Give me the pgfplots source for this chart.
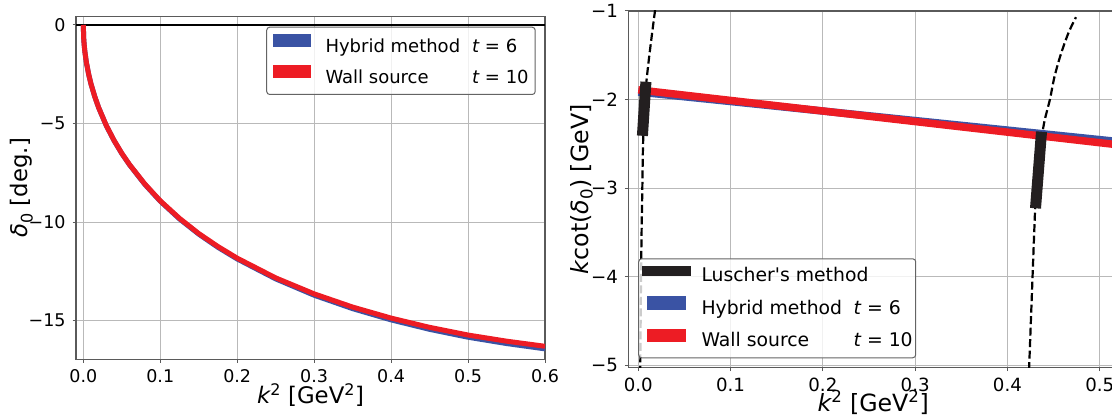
\documentclass[border=0pt]{standalone}
\usepackage{fontspec}
\setmainfont{DejaVu Sans}
\usepackage{pgfplots}
\pgfplotsset{compat=1.18}
\definecolor{hyb}{RGB}{58,83,164}
\definecolor{wall}{RGB}{237,28,36}
\definecolor{lus}{RGB}{35,31,32}
\definecolor{spine}{RGB}{90,90,90}
\definecolor{gridc}{RGB}{185,185,185}
\definecolor{legframe}{RGB}{100,100,100}
\pgfplotsset{
  mystyle/.style={
    scale only axis, anchor=south west,
    axis line style={spine, line width=1.3pt},
    grid=major, major grid style={gridc, line width=1pt},
    tick align=outside, tick pos=left,
    major tick length=3.5pt, every tick/.style={spine, line width=1pt},
    legend cell align=left,
    yticklabel style={anchor=east, inner sep=0pt, xshift=-6.7pt},
    xticklabel style={anchor=north, inner sep=0pt, yshift=-6.4pt},
  }
}
\begin{document}
\begin{tikzpicture}[x=1pt,y=1pt]
\useasboundingbox (0,0) rectangle (1112,418);
% ---------------- left panel ----------------
\begin{axis}[mystyle, at={(76pt,58.7pt)}, width=469pt, height=342.6pt,
  xmin=-0.0095, xmax=0.6, ymin=-16.96, ymax=0.42,
  xtick={0,0.1,0.2,0.3,0.4,0.5,0.6}, xticklabels={0.0,0.1,0.2,0.3,0.4,0.5,0.6},
  ytick={-15,-10,-5,0}, yticklabels={−15,−10,−5,0},
  ticklabel style={font=\fontsize{17.5}{21}\selectfont},
  xlabel={{\itshape k}\textsuperscript{2} [GeV\textsuperscript{2}]},
  ylabel={{\itshape δ}\textsubscript{0} [deg.]},
  xlabel style={at={([yshift=-44pt]axis description cs:0.5,0)}, anchor=base, inner sep=0pt, font=\fontsize{22.8}{27}\selectfont},
  ylabel style={at={([xshift=-48pt]axis description cs:0,0.5)}, anchor=base, inner sep=0pt, font=\fontsize{22.8}{27}\selectfont},
  legend image code/.code={\fill[#1, sharp corners, fill opacity=1, draw=none] (0pt,0pt) rectangle (38pt,13.3pt);},
  legend style={at={([xshift=-9.3pt,yshift=-10pt]axis description cs:1,1)}, anchor=north east,
    draw=legframe, line width=1pt, rounded corners=3pt, fill=white, fill opacity=0.8, text opacity=1,
    inner xsep=6.5pt, inner ysep=7pt, row sep=8.5pt, column sep=14.3pt,
    font=\fontsize{18}{21}\selectfont, nodes={inner sep=0pt, text height=14pt, text depth=4.2pt}},
]
\addplot[black, line width=2pt, forget plot] coordinates {(-0.0095,0) (0.6,0)};
\addplot[hyb, line width=5pt, line join=round] coordinates {
(0,0) (0.0005,-0.67) (0.001,-0.95) (0.002,-1.35) (0.004,-1.90) (0.007,-2.51) (0.01,-3.00) (0.015,-3.65) (0.02,-4.20) (0.03,-5.12) (0.04,-5.87) (0.05,-6.52) (0.06,-7.09) (0.08,-8.09) (0.1,-8.94) (0.125,-9.84) (0.15,-10.61) (0.175,-11.28) (0.2,-11.87) (0.25,-12.88) (0.3,-13.71) (0.35,-14.39) (0.4,-14.96) (0.45,-15.44) (0.5,-15.84) (0.55,-16.16) (0.6,-16.43)};
\addlegendentry{\makebox[146.7pt][l]{Hybrid method}{\itshape t} = 6}
\addplot[wall, line width=5pt, line join=round] coordinates {
(0,0) (0.0005,-0.67) (0.001,-0.95) (0.002,-1.35) (0.004,-1.90) (0.007,-2.51) (0.01,-2.99) (0.015,-3.65) (0.02,-4.20) (0.03,-5.11) (0.04,-5.86) (0.05,-6.51) (0.06,-7.08) (0.08,-8.07) (0.1,-8.92) (0.125,-9.81) (0.15,-10.58) (0.175,-11.24) (0.2,-11.83) (0.25,-12.83) (0.3,-13.64) (0.35,-14.31) (0.4,-14.87) (0.45,-15.34) (0.5,-15.73) (0.55,-16.04) (0.6,-16.30)};
\addlegendentry{\makebox[146.7pt][l]{Wall source}{\itshape t} = 10}
\end{axis}
% ---------------- right panel ----------------
\begin{axis}[mystyle, at={(628.3pt,50.3pt)}, width=489.9pt, height=356.7pt,
  xmin=-0.0108, xmax=0.52, ymin=-5.03, ymax=-1,
  xtick={0,0.1,0.2,0.3,0.4,0.5}, xticklabels={0.0,0.1,0.2,0.3,0.4,0.5},
  ytick={-5,-4,-3,-2,-1}, yticklabels={−5,−4,−3,−2,−1},
  ticklabel style={font=\fontsize{18.2}{22}\selectfont},
  xlabel={{\itshape k}\textsuperscript{2} [GeV\textsuperscript{2}]},
  ylabel={{\itshape k}cot({\itshape δ}\textsubscript{0}) [GeV]},
  xlabel style={at={([yshift=-44pt]axis description cs:0.5,0)}, anchor=base, inner sep=0pt, font=\fontsize{23.7}{28}\selectfont},
  ylabel style={at={([xshift=-39.5pt]axis description cs:0,0.5)}, anchor=base, inner sep=0pt, font=\fontsize{23.7}{28}\selectfont},
  legend style={at={([xshift=9.9pt,yshift=9.4pt]axis description cs:0,0)}, anchor=south west,
    draw=legframe, line width=1pt, rounded corners=3pt, fill=white, fill opacity=0.8, text opacity=1,
    inner xsep=3pt, inner ysep=6.8pt, row sep=10.1pt, column sep=10.5pt,
    font=\fontsize{18.8}{22}\selectfont, nodes={inner sep=0pt, text height=13.5pt, text depth=4.4pt}},
]
\addlegendimage{legend image code/.code={\fill[lus, sharp corners, fill opacity=1, draw=none] (0pt,1.45pt) rectangle (49.3pt,11.75pt);}}
\addlegendentry{Luscher\textquotesingle s method}
\addlegendimage{legend image code/.code={\fill[hyb, sharp corners, fill opacity=1, draw=none] (5.3pt,0pt) rectangle (44pt,13.3pt);}}
\addlegendentry{\makebox[152.2pt][l]{Hybrid method}{\itshape t} = 6}
\addlegendimage{legend image code/.code={\fill[wall, sharp corners, fill opacity=1, draw=none] (5.3pt,0pt) rectangle (44pt,13.3pt);}}
\addlegendentry{\makebox[152.2pt][l]{Wall source}{\itshape t} = 10}
% bands
\addplot[hyb, line width=7.5pt, forget plot] coordinates {(0,-1.915) (0.52,-2.475)};
\addplot[wall, line width=7.5pt, forget plot] coordinates {(0,-1.891) (0.52,-2.512)};
% Luscher curves
\addplot[black, line width=2.2pt, dash pattern=on 8pt off 3.5pt, smooth, forget plot] coordinates {
(0.0021,-5.1) (0.0022,-5.0) (0.0026,-4.5) (0.0030,-4.0) (0.0036,-3.5) (0.0044,-3.0) (0.0052,-2.5) (0.0071,-2.0) (0.0093,-1.75) (0.0120,-1.5) (0.0150,-1.25) (0.0181,-1.0) (0.0188,-0.95)};
\addplot[black, line width=2.2pt, dash pattern=on 8pt off 3.5pt, smooth, forget plot] coordinates {
(0.4233,-5.05) (0.4236,-5.0) (0.4254,-4.5) (0.4272,-4.0) (0.4290,-3.5) (0.4310,-3.0) (0.4335,-2.75) (0.4362,-2.5) (0.4400,-2.25) (0.4460,-2.0) (0.4508,-1.75) (0.4575,-1.5) (0.4660,-1.25) (0.4742,-1.07)};
% Luscher points (thick bars)
\addplot[lus, line width=11pt, forget plot] coordinates {(0.0083,-1.80) (0.0045,-2.41)};
\addplot[lus, line width=11pt, forget plot] coordinates {(0.4369,-2.364) (0.4304,-3.229)};
\end{axis}
\end{tikzpicture}
\end{document}
